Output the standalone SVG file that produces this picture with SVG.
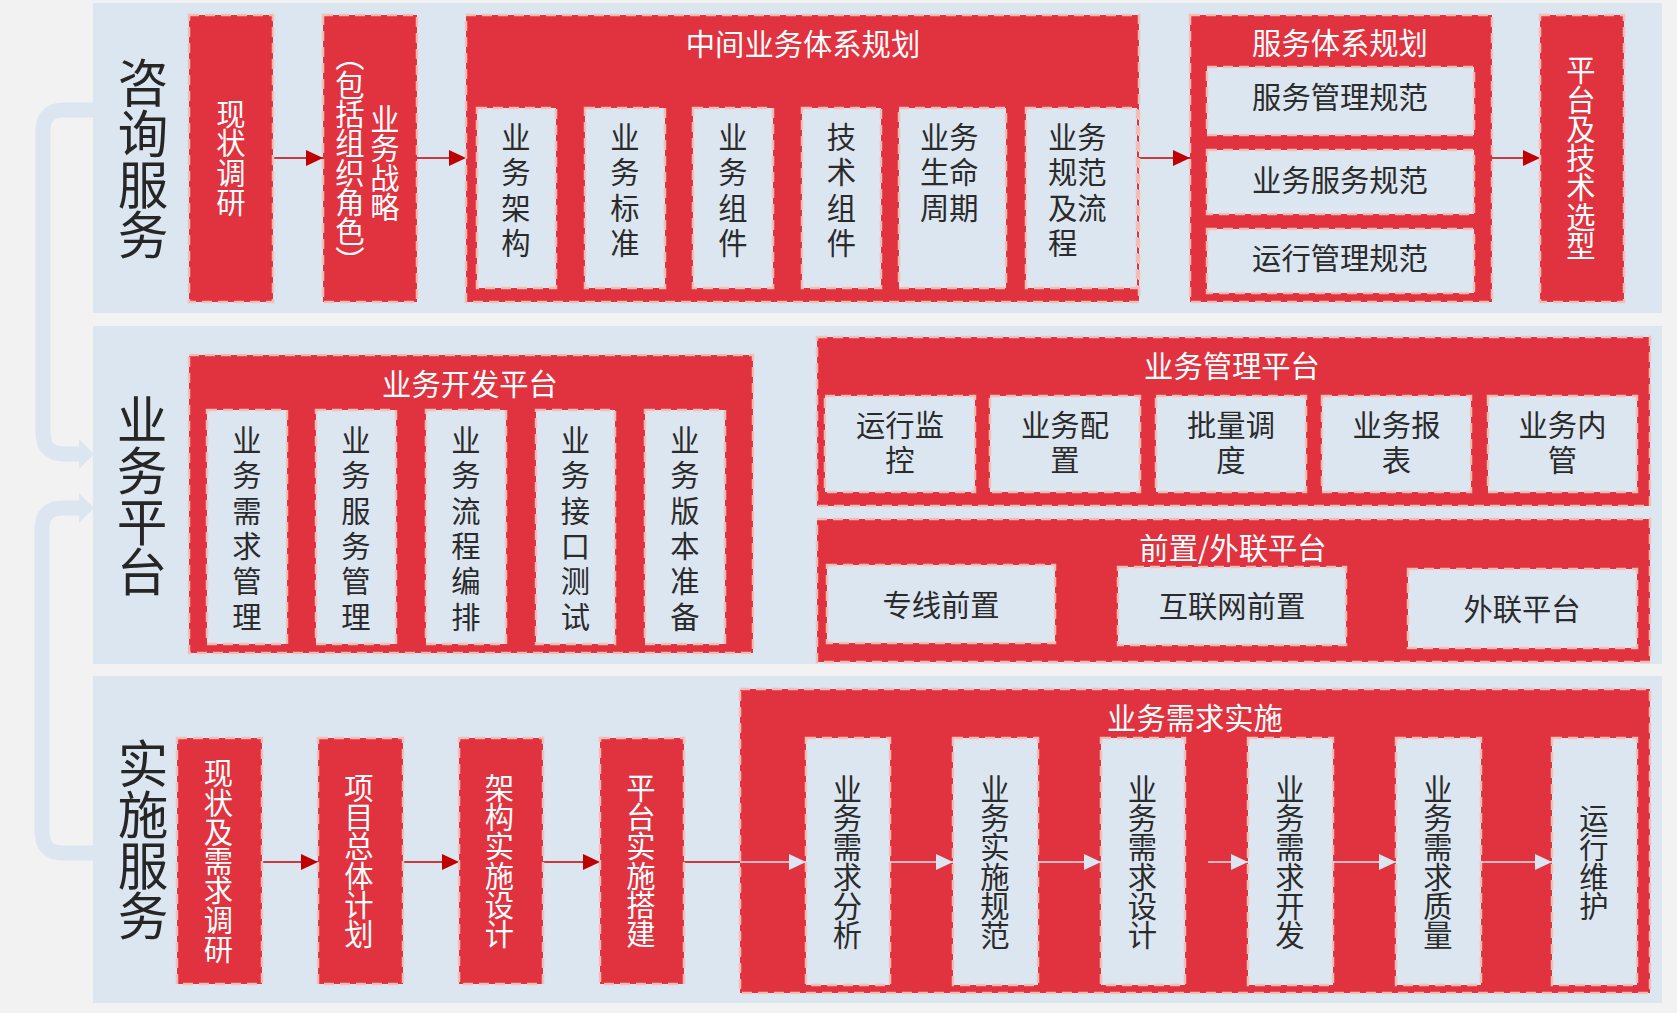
<svg xmlns="http://www.w3.org/2000/svg" width="1677" height="1013" viewBox="0 0 1677 1013">
<style>
text{font-family:"Noto Sans CJK SC","Noto Sans CJK TC",sans-serif;font-size:29.3px}
.w{fill:#ffffff}
.d{fill:#2b2b2b}
.c{text-anchor:middle}
.v{writing-mode:vertical-rl;text-anchor:middle}
.big{font-size:50.6px;fill:#262626}
.panel{fill:#dbe6f1}
.rb{fill:#e1333f;stroke:#f6bdb5;stroke-width:2.5;stroke-dasharray:10 6}
.lb{fill:#dbe6f1;stroke:#f6bdb5;stroke-width:2.5;stroke-dasharray:10 6}
.ar{stroke:#c00000;stroke-width:1.5;fill:none}
.al{stroke:#dbe6f1;stroke-width:1.5;fill:none}
.bk{stroke:#dbe6f1;stroke-width:15;fill:none}
</style>
<defs>
<marker id="mr" markerUnits="userSpaceOnUse" markerWidth="17" markerHeight="16" refX="17" refY="8" orient="auto"><path d="M0,0 L17,8 L0,16 Z" fill="#c00000"/></marker>
<marker id="ml" markerUnits="userSpaceOnUse" markerWidth="17" markerHeight="16" refX="17" refY="8" orient="auto"><path d="M0,0 L17,8 L0,16 Z" fill="#dbe6f1"/></marker>
<marker id="mb" markerUnits="userSpaceOnUse" markerWidth="15" markerHeight="30" refX="0" refY="15" orient="auto"><path d="M0,0 L15,15 L0,30 Z" fill="#dbe6f1"/></marker>
</defs>
<rect x="0" y="0" width="1677" height="1013" fill="#f2f2f2"/>

<g id="panel-consult">
<rect class="panel" x="93" y="3" width="1569" height="310"/>
<text class="v big" x="143" y="159">咨询服务</text>
</g>
<g id="panel-platform">
<rect class="panel" x="93" y="326" width="1569" height="338"/>
<text class="v big" x="142" y="496">业务平台</text>
</g>
<g id="panel-impl">
<rect class="panel" x="93" y="676" width="1569" height="327"/>
<text class="v big" x="143" y="840">实施服务</text>
</g>

<g id="connectors">
<path class="bk" d="M93,110 H64 Q43,110 43,131 V433 Q43,454 64,454 H79" marker-end="url(#mb)"/>
<path class="bk" d="M93,853 H63 Q42,853 42,832 V529 Q42,508 63,508 H79" marker-end="url(#mb)"/>
<path class="ar" d="M273,158 H323" marker-end="url(#mr)"/>
<path class="ar" d="M417,158 H466" marker-end="url(#mr)"/>
<path class="ar" d="M1139,158 H1190" marker-end="url(#mr)"/>
<path class="ar" d="M1492,158 H1540" marker-end="url(#mr)"/>
<path class="ar" d="M262,862 H318" marker-end="url(#mr)"/>
<path class="ar" d="M403,862 H459" marker-end="url(#mr)"/>
<path class="ar" d="M543,862 H600" marker-end="url(#mr)"/>
<path class="ar" d="M684,862 H740"/>
</g>

<g id="n-xzdy">
<rect class="rb" x="189" y="15" width="84" height="287"/>
<text class="v w" x="231" y="158">现状调研</text>
</g>
<g id="n-ywzl">
<rect class="rb" x="323" y="15" width="94" height="287"/>
<text class="v w" x="385" y="163">业务战略</text>
<text class="v w" x="350" y="158">（包括组织角色）</text>
</g>
<g id="n-zjyw">
<rect class="rb" x="466" y="15" width="673" height="287"/>
<text class="w c" x="803" y="55">中间业务体系规划</text>
<rect class="lb" x="477" y="108" width="79" height="180"/>
<text class="d c"><tspan x="516" y="147.5">业</tspan><tspan x="516" y="183">务</tspan><tspan x="516" y="218.5">架</tspan><tspan x="516" y="254">构</tspan></text>
<rect class="lb" x="585" y="108" width="80" height="180"/>
<text class="d c"><tspan x="625" y="147.5">业</tspan><tspan x="625" y="183">务</tspan><tspan x="625" y="218.5">标</tspan><tspan x="625" y="254">准</tspan></text>
<rect class="lb" x="693" y="108" width="80" height="180"/>
<text class="d c"><tspan x="733" y="147.5">业</tspan><tspan x="733" y="183">务</tspan><tspan x="733" y="218.5">组</tspan><tspan x="733" y="254">件</tspan></text>
<rect class="lb" x="802" y="108" width="79" height="180"/>
<text class="d c"><tspan x="841.5" y="147.5">技</tspan><tspan x="841.5" y="183">术</tspan><tspan x="841.5" y="218.5">组</tspan><tspan x="841.5" y="254">件</tspan></text>
<rect class="lb" x="899" y="108" width="107" height="180"/>
<text class="d"><tspan x="920" y="147.5">业务</tspan><tspan x="920" y="183">生命</tspan><tspan x="920" y="218.5">周期</tspan></text>
<rect class="lb" x="1026" y="108" width="111" height="180"/>
<text class="d"><tspan x="1048" y="147.5">业务</tspan><tspan x="1048" y="183">规范</tspan><tspan x="1048" y="218.5">及流</tspan><tspan x="1048" y="254">程</tspan></text>
</g>
<g id="n-fwtx">
<rect class="rb" x="1190" y="15" width="302" height="287"/>
<text class="w c" x="1340" y="54">服务体系规划</text>
<rect class="lb" x="1207" y="67" width="267" height="68"/>
<text class="d c" x="1340" y="108">服务管理规范</text>
<rect class="lb" x="1207" y="150" width="267" height="64"/>
<text class="d c" x="1340" y="191">业务服务规范</text>
<rect class="lb" x="1207" y="229" width="267" height="64"/>
<text class="d c" x="1340" y="269">运行管理规范</text>
</g>
<g id="n-ptjs">
<rect class="rb" x="1540" y="15" width="84" height="287"/>
<text class="v w" x="1581" y="158">平台及技术选型</text>
</g>

<g id="n-ywkf">
<rect class="rb" x="189" y="355" width="564" height="298"/>
<text class="w c" x="470" y="395">业务开发平台</text>
<rect class="lb" x="207" y="410" width="80" height="234"/>
<text class="d c"><tspan x="247" y="451">业</tspan><tspan x="247" y="486.3">务</tspan><tspan x="247" y="521.6">需</tspan><tspan x="247" y="557">求</tspan><tspan x="247" y="592.2">管</tspan><tspan x="247" y="627.5">理</tspan></text>
<rect class="lb" x="316" y="410" width="80" height="234"/>
<text class="d c"><tspan x="356" y="451">业</tspan><tspan x="356" y="486.3">务</tspan><tspan x="356" y="521.6">服</tspan><tspan x="356" y="557">务</tspan><tspan x="356" y="592.2">管</tspan><tspan x="356" y="627.5">理</tspan></text>
<rect class="lb" x="426" y="410" width="80" height="234"/>
<text class="d c"><tspan x="466" y="451">业</tspan><tspan x="466" y="486.3">务</tspan><tspan x="466" y="521.6">流</tspan><tspan x="466" y="557">程</tspan><tspan x="466" y="592.2">编</tspan><tspan x="466" y="627.5">排</tspan></text>
<rect class="lb" x="536" y="410" width="79" height="234"/>
<text class="d c"><tspan x="575.5" y="451">业</tspan><tspan x="575.5" y="486.3">务</tspan><tspan x="575.5" y="521.6">接</tspan><tspan x="575.5" y="557">口</tspan><tspan x="575.5" y="592.2">测</tspan><tspan x="575.5" y="627.5">试</tspan></text>
<rect class="lb" x="645" y="410" width="80" height="234"/>
<text class="d c"><tspan x="685" y="451">业</tspan><tspan x="685" y="486.3">务</tspan><tspan x="685" y="521.6">版</tspan><tspan x="685" y="557">本</tspan><tspan x="685" y="592.2">准</tspan><tspan x="685" y="627.5">备</tspan></text>
</g>

<g id="n-ywgl">
<rect class="rb" x="817" y="337" width="833" height="169"/>
<text class="w c" x="1232" y="377">业务管理平台</text>
<rect class="lb" x="825" y="396" width="150" height="96"/>
<text class="d c"><tspan x="900" y="436">运行监</tspan><tspan x="900" y="471">控</tspan></text>
<rect class="lb" x="990" y="396" width="150" height="96"/>
<text class="d c"><tspan x="1065" y="436">业务配</tspan><tspan x="1065" y="471">置</tspan></text>
<rect class="lb" x="1156" y="396" width="150" height="96"/>
<text class="d c"><tspan x="1231" y="436">批量调</tspan><tspan x="1231" y="471">度</tspan></text>
<rect class="lb" x="1322" y="396" width="149" height="96"/>
<text class="d c"><tspan x="1396.5" y="436">业务报</tspan><tspan x="1396.5" y="471">表</tspan></text>
<rect class="lb" x="1488" y="396" width="149" height="96"/>
<text class="d c"><tspan x="1562.5" y="436">业务内</tspan><tspan x="1562.5" y="471">管</tspan></text>
</g>

<g id="n-qzwl">
<rect class="rb" x="817" y="519" width="833" height="143"/>
<text class="w c" x="1233" y="559">前置/外联平台</text>
<rect class="lb" x="827" y="565" width="228" height="78"/>
<text class="d c" x="941" y="616">专线前置</text>
<rect class="lb" x="1118" y="567" width="228" height="78"/>
<text class="d c" x="1232" y="617">互联网前置</text>
<rect class="lb" x="1408" y="569" width="229" height="79"/>
<text class="d c" x="1522" y="620">外联平台</text>
</g>

<g id="n-xzxq">
<rect class="rb" x="177" y="738" width="85" height="246"/>
<text class="v w" x="218.5" y="861">现状及需求调研</text>
</g>
<g id="n-xmzt">
<rect class="rb" x="318" y="738" width="85" height="246"/>
<text class="v w" x="359" y="861">项目总体计划</text>
</g>
<g id="n-jgss">
<rect class="rb" x="459" y="738" width="84" height="246"/>
<text class="v w" x="499.5" y="861">架构实施设计</text>
</g>
<g id="n-ptss">
<rect class="rb" x="600" y="738" width="84" height="246"/>
<text class="v w" x="641" y="861">平台实施搭建</text>
</g>

<g id="n-ywxqss">
<rect class="rb" x="740" y="689" width="910" height="304"/>
<text class="w c" x="1195" y="729">业务需求实施</text>
<rect class="lb" x="806" y="738" width="84" height="247"/>
<text class="v d" x="847.5" y="862">业务需求分析</text>
<rect class="lb" x="953" y="738" width="85" height="247"/>
<text class="v d" x="995" y="862">业务实施规范</text>
<rect class="lb" x="1101" y="738" width="84" height="247"/>
<text class="v d" x="1142.5" y="862">业务需求设计</text>
<rect class="lb" x="1248" y="738" width="85" height="247"/>
<text class="v d" x="1290" y="862">业务需求开发</text>
<rect class="lb" x="1396" y="738" width="85" height="247"/>
<text class="v d" x="1438" y="862">业务需求质量</text>
<rect class="lb" x="1552" y="738" width="85" height="247"/>
<text class="v d" x="1594" y="862">运行维护</text>
<g id="impl-flow">
<path class="al" d="M740,862 H806" marker-end="url(#ml)"/>
<path class="al" d="M890,862 H953" marker-end="url(#ml)"/>
<path class="al" d="M1038,862 H1101" marker-end="url(#ml)"/>
<path class="al" d="M1208,862 H1248" marker-end="url(#ml)"/>
<path class="al" d="M1333,862 H1396" marker-end="url(#ml)"/>
<path class="al" d="M1481,862 H1552" marker-end="url(#ml)"/>
</g>
</g>
</svg>
